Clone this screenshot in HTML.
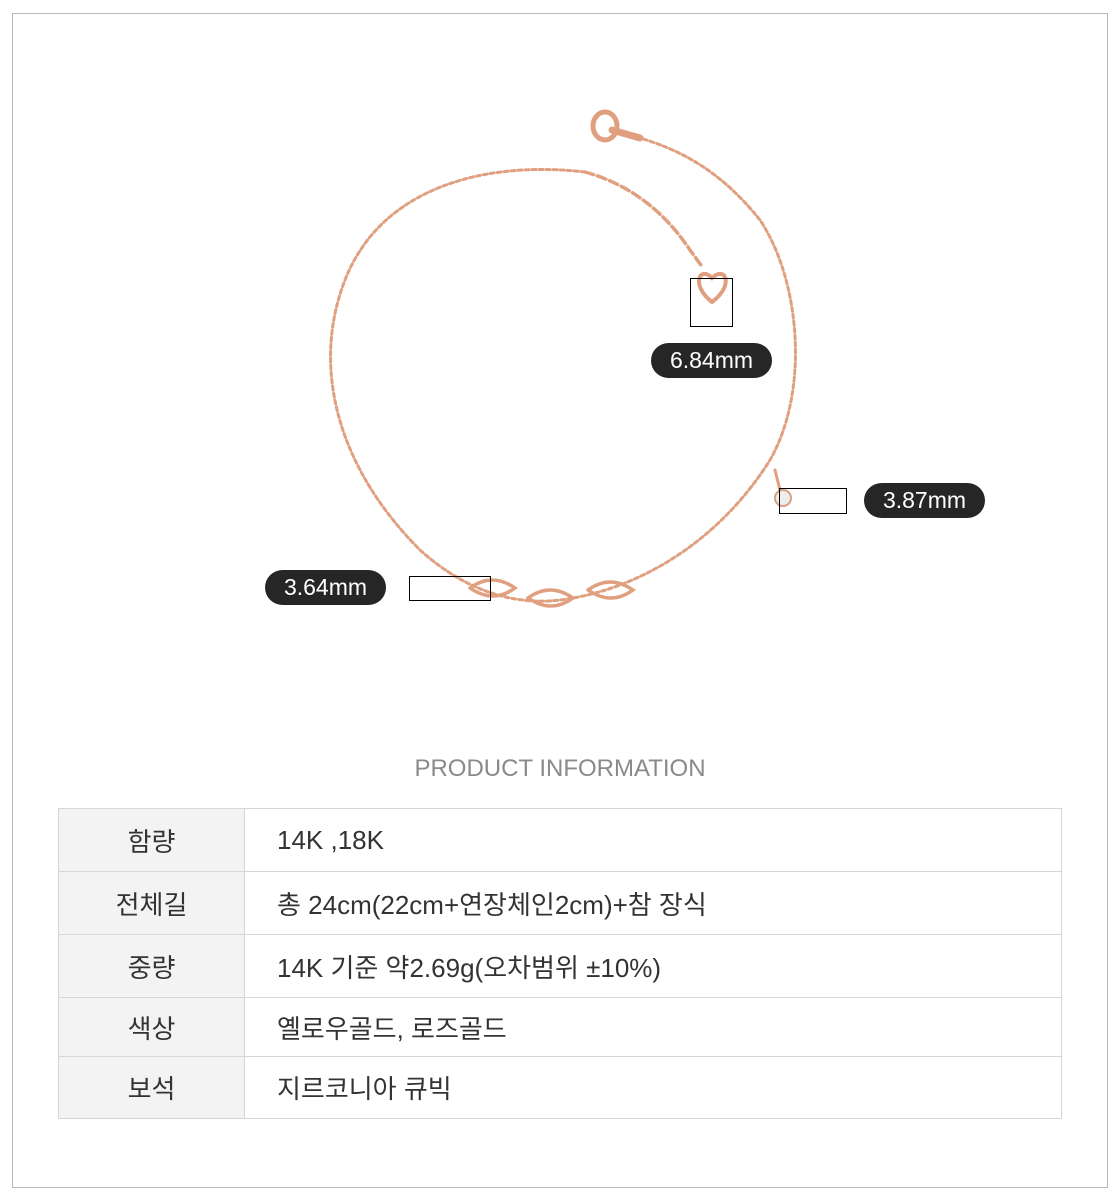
<!DOCTYPE html>
<html><head><meta charset="utf-8"><style>
body{margin:0;background:#fff;width:1120px;height:1199px;position:relative;font-family:"Liberation Sans","Noto Sans CJK KR",sans-serif;overflow:hidden}
.frame{position:absolute;left:12px;top:13px;width:1094px;height:1173px;border:1px solid #b8b8b8}
.pill{position:absolute;background:#262626;color:#fff;border-radius:18px;font-size:23px;text-align:center;line-height:35px;height:35px;width:121px}
.box{position:absolute;border:1px solid #000}
.title{position:absolute;top:755px;left:0;width:1120px;text-align:center;font-size:24px;color:#8a8a8a;letter-spacing:0}
table{position:absolute;left:58px;top:808px;width:1004px;border-collapse:collapse}
td{border:1px solid #d6d6d6;font-size:26px;color:#333;padding:0}
td.l{width:185px;background:#f3f3f3;text-align:center}
td.v{padding-left:32px}
</style></head><body>
<div class="frame"></div>
<svg width="1120" height="700" style="position:absolute;left:0;top:0">
<g fill="none" stroke="#e0a080" stroke-linecap="round">
<path d="M585,172 C480,160 380,190 345,280 C310,370 340,470 420,550 C470,595 520,605 560,600 C640,590 720,540 770,460 C810,390 800,280 760,220 C720,170 680,150 640,138" stroke-width="3" stroke-dasharray="4 3"/>
<path d="M585,172 Q650,190 690,250 L703,268" stroke-width="3.5" stroke-dasharray="9 4"/>
<path d="M712,278 C700,265 690,285 712,302 C735,285 725,265 712,278Z" stroke-width="4"/>
<ellipse cx="605" cy="126" rx="12" ry="14" stroke-width="5"/>
<path d="M612,130 L640,138" stroke-width="7"/>
<path d="M470,588 q22,-16 45,0 q-22,16 -45,0 M528,598 q22,-16 45,0 q-22,16 -45,0 M588,590 q22,-16 45,0 q-22,16 -45,0" stroke-width="3.5"/>
<line x1="775" y1="470" x2="780" y2="490" stroke-width="3"/>
</g>
<circle cx="783" cy="498" r="8" fill="#eee" stroke="#d9a080" stroke-width="2"/>
</svg>
<div class="box" style="left:690px;top:278px;width:41px;height:47px"></div>
<div class="box" style="left:779px;top:488px;width:66px;height:24px"></div>
<div class="box" style="left:409px;top:576px;width:80px;height:23px"></div>
<div class="pill" style="left:651px;top:343px">6.84mm</div>
<div class="pill" style="left:864px;top:483px">3.87mm</div>
<div class="pill" style="left:265px;top:570px">3.64mm</div>
<div class="title">PRODUCT INFORMATION</div>
<table>
<tr style="height:63px"><td class="l">함량</td><td class="v">14K ,18K</td></tr>
<tr style="height:63px"><td class="l">전체길</td><td class="v">총 24cm(22cm+연장체인2cm)+참 장식</td></tr>
<tr style="height:63px"><td class="l">중량</td><td class="v">14K 기준 약2.69g(오차범위 ±10%)</td></tr>
<tr style="height:59px"><td class="l">색상</td><td class="v">옐로우골드, 로즈골드</td></tr>
<tr style="height:62px"><td class="l">보석</td><td class="v">지르코니아 큐빅</td></tr>
</table>
</body></html>
